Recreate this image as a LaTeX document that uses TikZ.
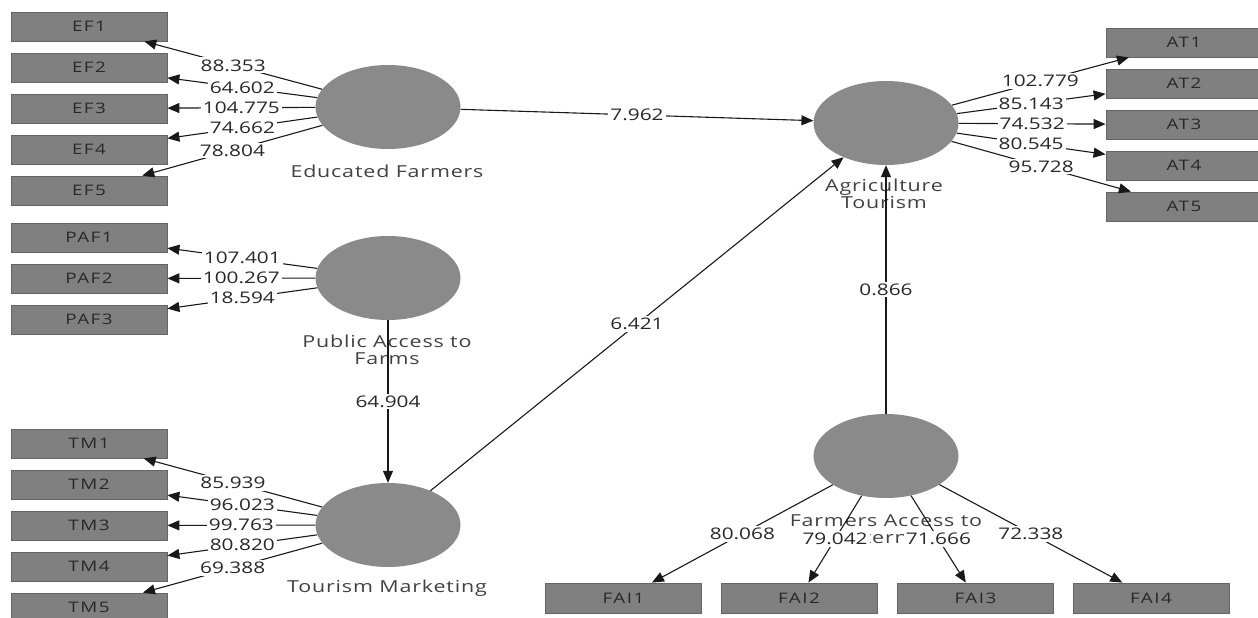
\documentclass[tikz,border=0pt]{standalone}
\usepackage{fontspec}
\setmainfont[FakeStretch=1.3]{Open Sans}
\newfontfamily\lvfont[FakeStretch=1.3,LetterSpace=5]{Open Sans}
\newfontfamily\boxfont[FakeStretch=1.3,LetterSpace=10]{Open Sans}
\usetikzlibrary{shapes.geometric,arrows.meta}
\definecolor{lvfill}{RGB}{138,138,138}
\definecolor{boxfill}{RGB}{128,128,128}
\definecolor{boxdraw}{RGB}{100,100,100}
\definecolor{boxtext}{RGB}{40,40,40}
\definecolor{lbltext}{RGB}{65,65,65}
\definecolor{valtext}{RGB}{40,40,40}
\definecolor{edgecol}{RGB}{25,25,25}
\begin{document}
\begin{tikzpicture}[x=1pt,y=-1pt,
  latent/.style={ellipse, fill=lvfill, minimum width=145pt, minimum height=84pt, inner sep=0pt},
  ind/.style={rectangle, fill=boxfill, draw=boxdraw, line width=0.8pt, minimum width=156pt, minimum height=29pt, inner sep=0pt, font=\boxfont\fontsize{14.5}{16}\selectfont, text=boxtext},
  lvlabel/.style={align=center, font=\lvfont\fontsize{16.5}{17}\selectfont, text=lbltext, inner sep=0pt},
  edge/.style={draw=edgecol, line width=1.1pt, -{Triangle[length=12pt,width=10pt]}},
  val/.style={fill=white, inner sep=2pt, font=\fontsize{16}{18}\selectfont, text=valtext}
]
\useasboundingbox (0,0) rectangle (1258,618);

% latent variables
\node[latent] (ef) at (388,107) {};
\node[latent] (paf) at (388,278) {};
\node[latent] (tm) at (388,525) {};
\node[latent] (at) at (886,123) {};
\node[latent] (fai) at (886,456) {};

% latent labels
\node[lvlabel] (efl) at (387,171) {Educated Farmers};
\node[lvlabel] (pafl) at (387,350) {Public Access to\\Farms};
\node[lvlabel] (tml) at (387,588) {Tourism Marketing};
\node[lvlabel] (atl) at (884,194) {Agriculture\\Tourism};
\node[lvlabel] (fail) at (886,529) {Farmers Access to\\Internet};

% indicators
\node[ind] (ef1) at (89,26.5) {EF1};
\node[ind] (ef2) at (89,67.5) {EF2};
\node[ind] (ef3) at (89,108.5) {EF3};
\node[ind] (ef4) at (89,149.5) {EF4};
\node[ind] (ef5) at (89,190.5) {EF5};

\node[ind] (paf1) at (89,237.5) {PAF1};
\node[ind] (paf2) at (89,278.5) {PAF2};
\node[ind] (paf3) at (89,319.5) {PAF3};

\node[ind] (tm1) at (89,443.5) {TM1};
\node[ind] (tm2) at (89,484.5) {TM2};
\node[ind] (tm3) at (89,525.5) {TM3};
\node[ind] (tm4) at (89,566.5) {TM4};
\node[ind] (tm5) at (89,607.5) {TM5};

\node[ind] (at1) at (1184,42.5) {AT1};
\node[ind] (at2) at (1184,83.5) {AT2};
\node[ind] (at3) at (1184,124.5) {AT3};
\node[ind] (at4) at (1184,165.5) {AT4};
\node[ind] (at5) at (1184,206.5) {AT5};

\node[ind, minimum height=30pt] (fai1) at (623.5,598) {FAI1};
\node[ind, minimum height=30pt] (fai2) at (799,598) {FAI2};
\node[ind, minimum height=30pt] (fai3) at (975.5,598) {FAI3};
\node[ind, minimum height=30pt] (fai4) at (1151,598) {FAI4};

% outer loadings
\draw[edge] (ef) -- node[val]{88.353} (ef1);
\draw[edge] (ef) -- node[val]{64.602} (ef2);
\draw[edge] (ef) -- node[val]{104.775} (ef3);
\draw[edge] (ef) -- node[val]{74.662} (ef4);
\draw[edge] (ef) -- node[val]{78.804} (ef5);

\draw[edge] (paf) -- node[val]{107.401} (paf1);
\draw[edge] (paf) -- node[val]{100.267} (paf2);
\draw[edge] (paf) -- node[val]{18.594} (paf3);

\draw[edge] (tm) -- node[val]{85.939} (tm1);
\draw[edge] (tm) -- node[val]{96.023} (tm2);
\draw[edge] (tm) -- node[val]{99.763} (tm3);
\draw[edge] (tm) -- node[val]{80.820} (tm4);
\draw[edge] (tm) -- node[val]{69.388} (tm5);

\draw[edge] (at) -- node[val]{102.779} (at1);
\draw[edge] (at) -- node[val]{85.143} (at2);
\draw[edge] (at) -- node[val]{74.532} (at3);
\draw[edge] (at) -- node[val]{80.545} (at4);
\draw[edge] (at) -- node[val]{95.728} (at5);

\draw[edge] (fai) -- node[val]{80.068} (fai1);
\draw[edge] (fai) -- node[val]{79.042} (fai2);
\draw[edge] (fai) -- node[val]{71.666} (fai3);
\draw[edge] (fai) -- node[val]{72.338} (fai4);

% structural paths
\draw[edge] (ef) -- node[val]{7.962} (at);
\draw[edge] (tm) -- node[val]{6.421} (at);
\draw[edge] (paf) -- node[val]{64.904} (tm);
\draw[edge] (fai) -- node[val]{0.866} (at);
\end{tikzpicture}
\end{document}
